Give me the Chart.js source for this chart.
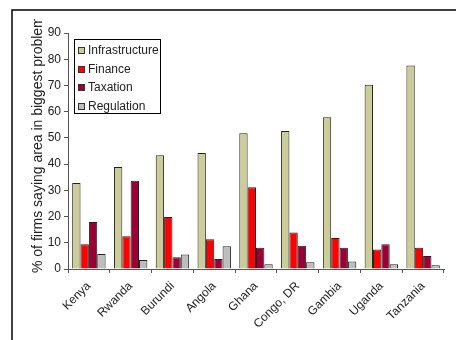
<!DOCTYPE html>
<html>
<head>
<meta charset="utf-8">
<script src="https://cdn.jsdelivr.net/npm/chart.js@4"></script>
<style>
  html, body { margin: 0; padding: 0; background: #ffffff; }
  #wrap { width: 456px; height: 340px; }
</style>
</head>
<body>
<div id="wrap"><canvas id="chart" width="456" height="340"></canvas></div>
<script>
// Countries surveyed
const countries = ['Kenya', 'Rwanda', 'Burundi', 'Angola', 'Ghana', 'Congo, DR', 'Gambia', 'Uganda', 'Tanzania'];

// Share of firms naming each area as their biggest problem (%)
const infrastructure = [32.8, 38.9, 43.4, 44.2, 51.8, 52.6, 57.9, 70.3, 77.6];
const finance        = [9.4, 12.5, 19.8, 11.3, 31.2, 13.9, 11.8, 7.4, 8.1];
const taxation       = [17.9, 33.7, 4.5, 3.8, 8.1, 8.9, 8.1, 9.4, 5.0];
const regulation     = [5.7, 3.4, 5.5, 8.7, 1.8, 2.6, 2.9, 1.8, 1.4];

const seriesNames = ['Infrastructure', 'Finance', 'Taxation', 'Regulation'];
const yTicks = [0, 10, 20, 30, 40, 50, 60, 70, 80, 90];
const yTitle = '% of firms saying area in biggest problem';

const colors = ['#cccc99', '#ff0000', '#990033', '#bdbdbd'];
const FONT = '"Liberation Sans", Arial, sans-serif';
const TEXT = '#222222';

// Outer frame, y-axis title and boxed legend drawn on the canvas
const decorations = {
  id: 'decorations',
  beforeDraw(chart) {
    const ctx = chart.ctx;
    ctx.save();
    ctx.fillStyle = '#ffffff';
    ctx.fillRect(0, 0, chart.width, chart.height);
    ctx.strokeStyle = '#000000';
    ctx.lineWidth = 1.5;
    ctx.beginPath();
    ctx.moveTo(12, chart.height);
    ctx.lineTo(12, 10);
    ctx.lineTo(chart.width, 10);
    ctx.stroke();
    ctx.restore();
  },
  afterDraw(chart) {
    const ctx = chart.ctx;
    const area = chart.chartArea;

    // rotated axis title, cut off at the top
    ctx.save();
    ctx.beginPath();
    ctx.rect(0, 19, 66, chart.height);
    ctx.clip();
    ctx.translate(42, area.bottom + 4);
    ctx.rotate(-Math.PI / 2);
    ctx.font = '14px ' + FONT;
    ctx.fillStyle = TEXT;
    ctx.textAlign = 'left';
    ctx.textBaseline = 'alphabetic';
    ctx.fillText(yTitle, 0, 0);
    ctx.restore();

    // legend box inside the plot
    const lx = area.left + 6, ly = area.top + 6, lw = 86, lh = 74;
    ctx.save();
    ctx.fillStyle = '#ffffff';
    ctx.fillRect(lx, ly, lw, lh);
    ctx.strokeStyle = '#000000';
    ctx.lineWidth = 1;
    ctx.strokeRect(lx + 0.5, ly + 0.5, lw, lh);
    ctx.font = '12px ' + FONT;
    ctx.textBaseline = 'middle';
    chart.data.datasets.forEach((ds, i) => {
      const cy = ly + 11 + i * 18.7;
      ctx.fillStyle = ds.backgroundColor;
      ctx.fillRect(lx + 4, Math.round(cy - 3), 7, 7);
      ctx.strokeStyle = '#333333';
      ctx.strokeRect(lx + 4.5, Math.round(cy - 3) + 0.5, 6, 6);
      ctx.fillStyle = TEXT;
      ctx.fillText(ds.label, lx + 14, cy + 0.5);
    });
    ctx.restore();
  }
};

const seriesValues = [infrastructure, finance, taxation, regulation];

new Chart(document.getElementById('chart'), {
  type: 'bar',
  data: {
    labels: countries,
    datasets: seriesNames.map((name, i) => ({
      label: name,
      data: seriesValues[i],
      backgroundColor: colors[i],
      borderColor: '#222222',
      borderWidth: 1,
      categoryPercentage: 0.8,
      barPercentage: 1.0
    }))
  },
  options: {
    responsive: false,
    animation: false,
    devicePixelRatio: 1,
    layout: { padding: { top: 33, right: 12, left: 0, bottom: 0 } },
    plugins: {
      legend: { display: false },
      tooltip: { enabled: false }
    },
    scales: {
      x: {
        grid: {
          display: true,
          drawOnChartArea: false,
          drawTicks: true,
          tickLength: 4,
          color: '#555555',
          offset: true
        },
        border: { display: true, color: '#555555', width: 1 },
        ticks: {
          font: { family: FONT, size: 12 },
          color: TEXT,
          minRotation: 45,
          maxRotation: 45,
          padding: 6
        },
        afterFit(scale) { scale.height = 71; }
      },
      y: {
        min: 0,
        max: 90,
        afterBuildTicks(scale) { scale.ticks = yTicks.map(v => ({ value: v })); },
        grid: {
          display: true,
          drawOnChartArea: false,
          drawTicks: true,
          tickLength: 4,
          color: '#555555'
        },
        border: { display: true, color: '#555555', width: 1 },
        ticks: {
          font: { family: FONT, size: 12 },
          color: TEXT,
          padding: 3
        },
        afterFit(scale) { scale.width = 68; }
      }
    }
  },
  plugins: [decorations]
});
</script>
</body>
</html>
